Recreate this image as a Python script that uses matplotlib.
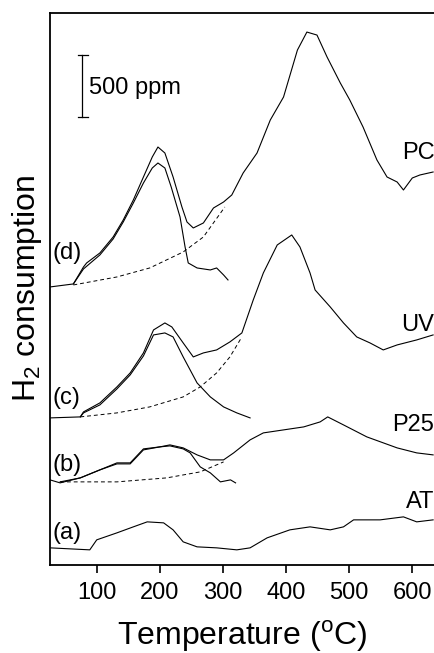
import numpy as np
import matplotlib.pyplot as plt

plt.rcParams['font.family'] = ['Liberation Sans', 'DejaVu Sans']

# (a) AT
t_at = [26, 89, 100, 132, 158, 180, 206, 221, 237, 259, 290, 322, 343, 370, 406, 438, 470, 491, 507, 549, 586, 607, 633]
y_at = [17, 15, 25, 32, 38, 43, 42, 35, 23, 18, 17, 15, 17, 27, 35, 38, 35, 38, 45, 45, 48, 43, 45]

# (b) P25
t_p25 = [26, 42, 74, 105, 132, 153, 174, 200, 216, 237, 259, 280, 301, 317, 343, 364, 396, 428, 454, 466, 491, 528, 576, 607, 633]
y_p25 = [85, 82, 87, 95, 102, 102, 116, 118, 120, 117, 110, 105, 105, 112, 125, 132, 135, 138, 143, 148, 140, 128, 117, 112, 110]
t_p25_fit = [42, 74, 105, 132, 153, 174, 200, 216, 237, 248, 264, 280, 296, 312, 320]
y_p25_fit = [83, 87, 95, 101, 101, 115, 118, 119, 116, 112, 98, 92, 83, 85, 82]
t_p25_base = [42, 132, 211, 264, 301]
y_p25_base = [83, 83, 87, 93, 103]

# (c) UV
t_uv = [26, 74, 79, 105, 132, 153, 174, 190, 208, 219, 237, 253, 269, 290, 311, 330, 348, 364, 386, 409, 422, 438, 446, 470, 491, 512, 533, 554, 576, 607, 633]
y_uv = [147, 148, 153, 162, 178, 192, 212, 235, 242, 238, 222, 208, 212, 215, 223, 232, 265, 292, 320, 330, 318, 292, 275, 258, 242, 228, 222, 215, 220, 225, 230]
t_uv_fit = [74, 79, 105, 132, 153, 174, 190, 208, 221, 237, 259, 280, 301, 322, 343]
y_uv_fit = [148, 152, 160, 176, 190, 209, 230, 232, 228, 208, 182, 168, 158, 152, 147]
t_uv_base = [74, 132, 184, 237, 264, 290, 311, 330]
y_uv_base = [148, 152, 158, 168, 178, 192, 208, 228]

# (d) PC
t_pc = [26, 63, 79, 84, 105, 126, 142, 158, 174, 188, 197, 208, 221, 235, 243, 253, 269, 285, 301, 314, 332, 354, 375, 396, 418, 433, 449, 465, 486, 501, 522, 544, 560, 576, 586, 600, 612, 633]
y_pc = [278, 281, 298, 302, 312, 328, 345, 365, 388, 408, 418, 412, 388, 358, 343, 337, 342, 357, 363, 370, 392, 412, 445, 468, 515, 533, 530, 508, 482, 465, 438, 405, 388, 383, 375, 387, 390, 393]
t_pc_fit = [63, 79, 105, 126, 142, 158, 174, 188, 197, 208, 218, 232, 240, 245, 259, 280, 290, 301, 308]
y_pc_fit = [281, 296, 310, 326, 343, 362, 382, 397, 402, 397, 378, 348, 318, 302, 297, 295, 297, 290, 285]
t_pc_base = [63, 132, 184, 237, 269, 303]
y_pc_base = [280, 288, 297, 313, 328, 358]

fig = plt.figure(figsize=(4.35, 6.53), dpi=100, facecolor="white")
ax = fig.add_axes([0.115, 0.135, 0.885, 0.845])

lw = 0.8
for t, y in [(t_at, y_at), (t_p25, y_p25), (t_p25_fit, y_p25_fit),
             (t_uv, y_uv), (t_uv_fit, y_uv_fit), (t_pc, y_pc), (t_pc_fit, y_pc_fit)]:
    ax.plot(t, y, color="black", linewidth=lw)
for t, y in [(t_p25_base, y_p25_base), (t_uv_base, y_uv_base), (t_pc_base, y_pc_base)]:
    ax.plot(t, y, color="black", linewidth=0.7, linestyle=(0, (4, 3)))

ax.set_xlim(26, 636)
ax.set_ylim(0, 552)

# curve labels
for txt, x, y in [("(a)", 30, 32), ("(b)", 30, 100), ("(c)", 30, 167), ("(d)", 30, 312)]:
    ax.text(x, y, txt, fontsize=17, ha="left", va="center")
for txt, x, y in [("AT", 635, 63), ("P25", 635, 140), ("UV", 635, 240), ("PC", 635, 412)]:
    ax.text(x, y, txt, fontsize=17, ha="right", va="center")

# scale bar 500 ppm
ax.plot([77, 77], [448, 510], color="black", linewidth=0.9)
ax.plot([70, 86], [510, 510], color="black", linewidth=0.9)
ax.plot([70, 86], [448, 448], color="black", linewidth=0.9)
ax.text(88, 477, "500 ppm", fontsize=17, ha="left", va="center")

ax.set_xticks([100, 200, 300, 400, 500, 600])
ax.set_yticks([])
ax.tick_params(axis="x", labelsize=17, direction="out", length=6, width=1.2, pad=6)
ax.spines["right"].set_visible(False)
for s in ["left", "bottom", "top"]:
    ax.spines[s].set_linewidth(1.3)

ax.set_xlabel("Temperature ($^{\\mathregular{o}}$C)", fontsize=23, labelpad=11)
ax.set_ylabel("H$_{\\mathregular{2}}$ consumption", fontsize=23, labelpad=4)

fig.savefig("out.png", dpi=100)
